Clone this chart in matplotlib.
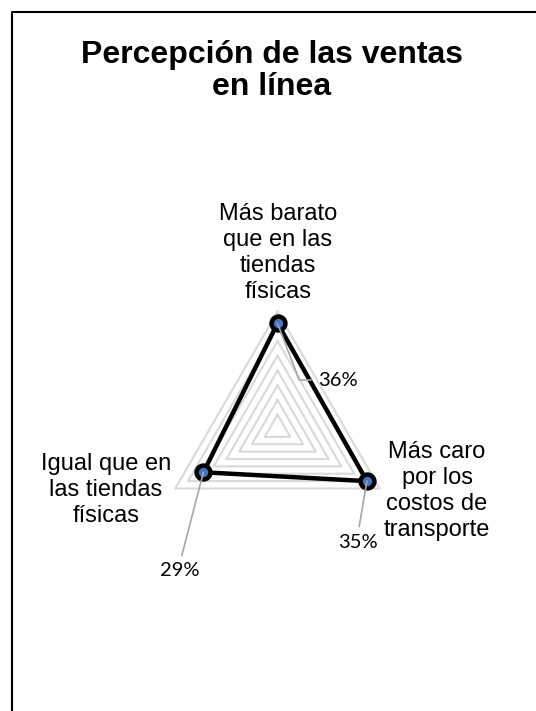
import numpy as np
import matplotlib.pyplot as plt
from matplotlib.lines import Line2D

# data
categories = ["Más barato\nque en las\ntiendas\nfísicas",
              "Más caro\npor los\ncostos de\ntransporte",
              "Igual que en\nlas tiendas\nfísicas"]
values = [0.36, 0.35, 0.29]
value_labels = ["36%", "35%", "29%"]
rings = [0.05, 0.10, 0.15, 0.20, 0.25, 0.30, 0.35, 0.40]
title = "Percepción de las ventas\nen línea"

W, H = 536, 711
fig = plt.figure(figsize=(W / 100, H / 100), dpi=100)

def fx(x):
    return x / W

def fy(y):
    return 1 - y / H

# radar axes: center (277.5, 429.5) px, radius 118 px for 0.40
cx, cy, R = 277.5, 429.5, 118
ax = fig.add_axes([fx(cx - R), fy(cy + R), 2 * R / W, 2 * R / H], projection='polar')
ax.set_ylim(0, 0.4)
ax.set_theta_zero_location('N')
ax.set_theta_direction(-1)
ax.axis('off')

angles = np.deg2rad([0, 120, 240])
closed = np.append(angles, angles[0])

for r in rings:
    ax.plot(closed, [r] * 4, color='#D9D9D9', lw=1.5, clip_on=False, zorder=1)

ax.plot(closed, values + values[:1], color='black', lw=3.2, clip_on=False, zorder=3)
ax.plot(angles, values, 'o', ms=10, mfc='#4472C4', mec='black', mew=3.2,
        clip_on=False, zorder=4)

# value labels with leader lines (positions in figure pixels from top)
lab_pos = [(318, 380), (358, 542), (180, 571)]
lab_ha = ['left', 'center', 'center']
relpos = [(0, 0.5), (0.5, 1), (0.5, 1)]
conn = ["angle,angleA=0,angleB=-69,rad=0", "arc3", "arc3"]
for a, v, t, (px, py), ha, rp, cs in zip(angles, values, value_labels,
                                         lab_pos, lab_ha, relpos, conn):
    ax.annotate(t, xy=(a, v), xytext=(px, H - py), textcoords='figure pixels',
                ha=ha, va='center', fontsize=14.5, family='Lato',
                annotation_clip=False, zorder=5,
                arrowprops=dict(arrowstyle='-', color='#A6A6A6', lw=1.2,
                                shrinkA=3, shrinkB=0, relpos=rp,
                                connectionstyle=cs))

# category labels
cat_pos = [(278, 253), (437, 491), (106, 490)]
for c, (px, py) in zip(categories, cat_pos):
    fig.text(fx(px), fy(py), c, ha='center', va='center', fontsize=17,
             family='Liberation Sans', linespacing=1.24, multialignment='center')

fig.text(fx(272), fy(71), title, ha='center', va='center', fontsize=23,
         fontweight='bold', family='Liberation Sans', linespacing=1.08)

# frame
fig.add_artist(Line2D([fx(12), fx(12), fx(W)], [0, fy(12), fy(12)],
                      color='black', lw=1.5))

fig.savefig('out.png', dpi=100)
